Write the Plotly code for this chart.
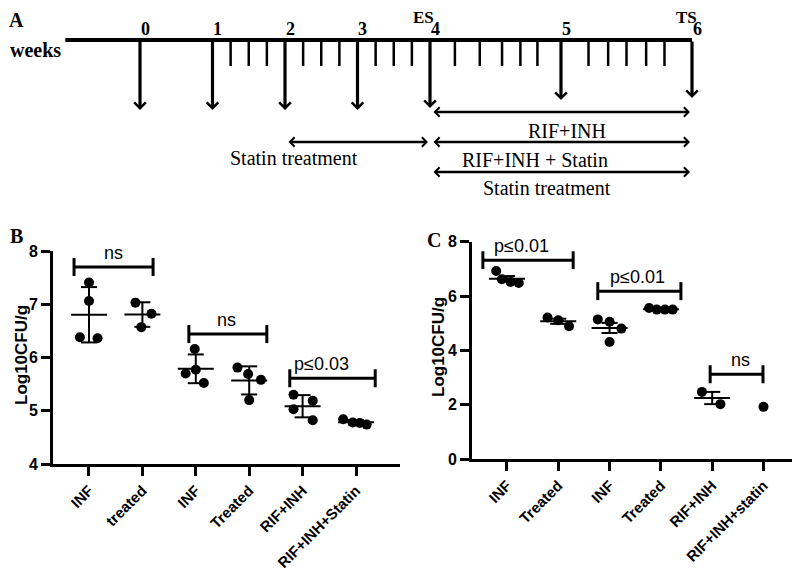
import numpy as np
import plotly.graph_objects as go

# ================= DATA =================
# Panel A: experimental timeline (weeks)
weeks = [0, 1, 2, 3, 4, 5, 6]
week_labels = ["0", "1", "2", "3", "4", "5", "6"]
minor_weeks_early = [1.25, 1.5, 1.75, 2.25, 2.5, 2.75, 3.25, 3.5, 3.75]
minor_weeks_late = [4.19, 4.38, 4.55, 4.69, 4.82, 5.21, 5.36, 5.5, 5.65, 5.79]
regimens = ["Statin treatment", "RIF+INH", "RIF+INH + Statin", "Statin treatment"]
regimen_start = [2, 4, 4, 4]
regimen_end = [4, 6, 6, 6]

# Panel B: Log10 CFU/g (mean ± SD)
cats_b = ["INF", "treated", "INF", "Treated", "RIF+INH", "RIF+INH+Statin"]
vals_b = [
    [7.41, 7.06, 6.38, 6.36],
    [7.03, 6.82, 6.57],
    [6.16, 5.70, 5.77, 5.52],
    [5.81, 5.69, 5.58, 5.20],
    [5.30, 5.19, 5.03, 4.82],
    [4.84, 4.78, 4.77, 4.74],
]
brackets_b = [(0, 1, 7.70, "ns"), (2, 3, 6.44, "ns"), (4, 5, 5.61, "p≤0.03")]

# Panel C: Log10 CFU/g (mean ± SEM)
cats_c = ["INF", "Treated", "INF", "Treated", "RIF+INH", "RIF+INH+statin"]
vals_c = [
    [6.92, 6.62, 6.52, 6.48],
    [5.21, 5.11, 4.89],
    [5.14, 5.05, 4.80, 4.31],
    [5.56, 5.50, 5.50, 5.50],
    [2.47, 2.02],
    [1.92],
]
brackets_c = [(0, 1, 7.32, "p≤0.01"), (2, 3, 6.18, "p≤0.01"), (4, 5, 3.12, "ns")]

# ================= STYLE / LAYOUT =================
W, H = 800, 571
OFF = 8  # page body margin: the figure is drawn 8 px right/down of the window corner
SERIF = "Liberation Serif, Times New Roman, serif"
SANS = "Liberation Sans, Arial, sans-serif"
BLACK = "#000000"


def pxx(sx):
    return (sx - OFF) / W


def pxy(sy):
    return 1 - (sy - OFF) / H


# horizontal jitter of points within each group (category units)
jitter_b = [[0, 0, -0.17, 0.16], [-0.13, 0.17, -0.02], [-0.02, -0.19, 0, 0.15],
            [-0.22, -0.02, 0.22, 0], [-0.17, 0.19, -0.17, 0.19], [-0.24, -0.06, 0.07, 0.2]]
jitter_c = [[-0.21, -0.1, 0.07, 0.23], [-0.21, 0, 0.21], [-0.23, 0, 0.23, 0],
            [-0.23, -0.08, 0.08, 0.23], [-0.2, 0.16], [0]]
bracket_ext_b = [(-0.28, 1.2), (1.87, 3.33), (3.76, 5.36)]
bracket_ext_c = [(-0.47, 1.29), (1.77, 3.39), (3.96, 4.99)]
bracket_text_x_b = [0.45, 2.57, 4.36]
bracket_text_x_c = [0.29, 2.55, 4.56]

fig = go.Figure()
shapes = []
annotations = []


def add_dot_panel(xa, ya, vals, jit, err_kind, brackets, ext, text_x):
    xs, ys = [], []
    for i, (v, j) in enumerate(zip(vals, jit)):
        xs += [i + d for d in j]
        ys += v
    fig.add_trace(go.Scatter(x=xs, y=ys, mode="markers", xaxis=xa, yaxis=ya,
                             marker=dict(color=BLACK, size=10, line=dict(width=0)),
                             cliponaxis=False, showlegend=False, hoverinfo="skip"))
    xref, yref = xa, ya
    for i, v in enumerate(vals):
        if len(v) < 2:
            continue
        arr = np.array(v)
        m = arr.mean()
        sd = arr.std(ddof=1)
        e = sd if err_kind == "sd" else sd / np.sqrt(len(arr))
        ln = dict(color=BLACK, width=2)
        shapes.append(dict(type="line", xref=xref, yref=yref, xsizemode="pixel", xanchor=i,
                           x0=-18, x1=18, y0=m, y1=m, line=ln))
        shapes.append(dict(type="line", xref=xref, yref=yref, x0=i, x1=i, y0=m - e, y1=m + e, line=ln))
        for yy in (m - e, m + e):
            shapes.append(dict(type="line", xref=xref, yref=yref, xsizemode="pixel", xanchor=i,
                               x0=-8, x1=8, y0=yy, y1=yy, line=ln))
    for (a, b, yb, lab), (x0, x1), tx in zip(brackets, ext, text_x):
        bl = dict(color=BLACK, width=3)
        shapes.append(dict(type="line", xref=xref, yref=yref, x0=x0, x1=x1, y0=yb, y1=yb, line=bl))
        for xx in (x0, x1):
            shapes.append(dict(type="line", xref=xref, yref=yref, ysizemode="pixel", yanchor=yb,
                               x0=xx, x1=xx, y0=-9, y1=9, line=bl))
        annotations.append(dict(x=tx, y=yb, xref=xref, yref=yref, text=lab, showarrow=False,
                                xanchor="center", yanchor="bottom", yshift=2,
                                font=dict(family=SANS, size=18, color=BLACK)))


add_dot_panel("x", "y", vals_b, jitter_b, "sd", brackets_b, bracket_ext_b, bracket_text_x_b)
add_dot_panel("x2", "y2", vals_c, jitter_c, "sem", brackets_c, bracket_ext_c, bracket_text_x_c)

# ---------- Panel A (schematic, y in window-pixel rows from top) ----------
TL_Y = 40
TICK_END = 66
tl_start_week = -1.03
down_tip = [110, 110, 110, 110, 108, 100, 98]
reg_y = [142, 112, 142, 172]
reg_label_y = [158, 131, 160, 188]
reg_label_shift = [-64, 6, -26, -14]

fig.add_trace(go.Scatter(x=[tl_start_week, 4], y=[TL_Y, TL_Y], mode="lines", xaxis="x3", yaxis="y3",
                         line=dict(color=BLACK, width=4), showlegend=False, hoverinfo="skip"))
fig.add_trace(go.Scatter(x=[4, 6], y=[TL_Y, TL_Y], mode="lines", xaxis="x4", yaxis="y3",
                         line=dict(color=BLACK, width=4), showlegend=False, hoverinfo="skip"))
for arr, xa in ((minor_weeks_early, "x3"), (minor_weeks_late, "x4")):
    xs, ys = [], []
    for w in arr:
        xs += [w, w, None]
        ys += [TL_Y, TICK_END, None]
    fig.add_trace(go.Scatter(x=xs, y=ys, mode="lines", xaxis=xa, yaxis="y3",
                             line=dict(color=BLACK, width=2.5), showlegend=False, hoverinfo="skip"))


def axname(w):
    return "x3" if w < 4 else "x4"


for w, lab, tip in zip(weeks, week_labels, down_tip):
    xa = axname(w)
    annotations.append(dict(x=w, y=tip, ax=w, ay=TL_Y, xref=xa, yref="y3", axref=xa, ayref="y3",
                            text="", showarrow=True, arrowhead=4, arrowsize=0.7, arrowwidth=3.2,
                            arrowcolor=BLACK))
    annotations.append(dict(x=w, y=29, xref=xa, yref="y3", text="<b>%s</b>" % lab, showarrow=False,
                            xshift=5, xanchor="center", yanchor="middle",
                            font=dict(family=SERIF, size=18, color=BLACK)))
annotations.append(dict(x=4, y=17, xref="x4", yref="y3", text="<b>ES</b>", showarrow=False, xshift=-7,
                        xanchor="center", yanchor="middle", font=dict(family=SERIF, size=17, color=BLACK)))
annotations.append(dict(x=6, y=17, xref="x4", yref="y3", text="<b>TS</b>", showarrow=False, xshift=-6,
                        xanchor="center", yanchor="middle", font=dict(family=SERIF, size=17, color=BLACK)))

for name, s, e, yy, ly, sh in zip(regimens, regimen_start, regimen_end, reg_y, reg_label_y, reg_label_shift):
    xa = axname(s)
    annotations.append(dict(x=e, y=yy, ax=s, ay=yy, xref=xa, yref="y3", axref=xa, ayref="y3",
                            text="", showarrow=True, arrowhead=4, startarrowhead=4, arrowside="end+start",
                            arrowsize=0.75, startarrowsize=0.75, arrowwidth=2.4, arrowcolor=BLACK,
                            standoff=2, startstandoff=2))
    annotations.append(dict(x=(s + e) / 2, y=ly, xref=xa, yref="y3", text=name, showarrow=False,
                            xshift=sh, xanchor="center", yanchor="middle",
                            font=dict(family=SERIF, size=20, color=BLACK)))

for txt, px, py in (("A", 16, 20), ("B", 16, 236), ("C", 434, 240)):
    annotations.append(dict(x=pxx(px), y=pxy(py), xref="paper", yref="paper", text="<b>%s</b>" % txt,
                            xanchor="center", yanchor="middle", showarrow=False,
                            font=dict(family=SERIF, size=20, color=BLACK)))
annotations.append(dict(x=pxx(35), y=pxy(50), xref="paper", yref="paper", text="<b>weeks</b>",
                        xanchor="center", yanchor="middle", showarrow=False,
                        font=dict(family=SERIF, size=20, color=BLACK)))
for px, py in ((21, 355), (438, 347)):
    annotations.append(dict(x=pxx(px), y=pxy(py), xref="paper", yref="paper", text="<b>Log10CFU/g</b>",
                            textangle=-90, xanchor="center", yanchor="middle", showarrow=False,
                            font=dict(family=SANS, size=17, color=BLACK)))

axis_common = dict(showline=True, linewidth=3, linecolor=BLACK, ticks="outside", ticklen=9, tickwidth=3,
                   tickcolor=BLACK, showgrid=False, zeroline=False, automargin=False,
                   tickfont=dict(family=SANS, size=16, color=BLACK))
xcat = dict(axis_common, tickfont=dict(family=SANS, size=15, color=BLACK), tickangle=-45)
hidden = dict(visible=False, automargin=False, showgrid=False, zeroline=False)

fig.update_layout(
    width=W, height=H, margin=dict(l=0, r=0, t=0, b=0, pad=0, autoexpand=False),
    paper_bgcolor="white", plot_bgcolor="rgba(0,0,0,0)", showlegend=False,
    xaxis=dict(domain=[pxx(53), pxx(400)], range=[-0.674, 5.824], anchor="y",
               tickvals=list(range(len(cats_b))), ticktext=["<b>%s</b>" % c for c in cats_b], **xcat),
    yaxis=dict(domain=[pxy(464), pxy(251)], range=[4, 8], anchor="x",
               tickvals=[4, 5, 6, 7, 8], ticktext=["<b>%d</b>" % v for v in [4, 5, 6, 7, 8]], **axis_common),
    xaxis2=dict(domain=[pxx(472), 1.0], range=[-0.682, (W + OFF - 507) / 51.3], anchor="y2",
                tickvals=list(range(len(cats_c))), ticktext=["<b>%s</b>" % c for c in cats_c], **xcat),
    yaxis2=dict(domain=[pxy(459), pxy(241.7)], range=[0, 8], anchor="x2",
                tickvals=[0, 2, 4, 6, 8], ticktext=["<b>%d</b>" % v for v in [0, 2, 4, 6, 8]], **axis_common),
    xaxis3=dict(domain=[0, 1], range=[-(140 - OFF) / 72.5, (W + OFF - 140) / 72.5], anchor="y3", **hidden),
    xaxis4=dict(domain=[0, 1], range=[4 - (430 - OFF) / 131, 4 + (W + OFF - 430) / 131], anchor="y3", **hidden),
    yaxis3=dict(domain=[0, 1], range=[H + OFF, OFF], anchor="x3", **hidden),
    shapes=shapes,
    annotations=annotations,
)

fig.write_html("out.html")
